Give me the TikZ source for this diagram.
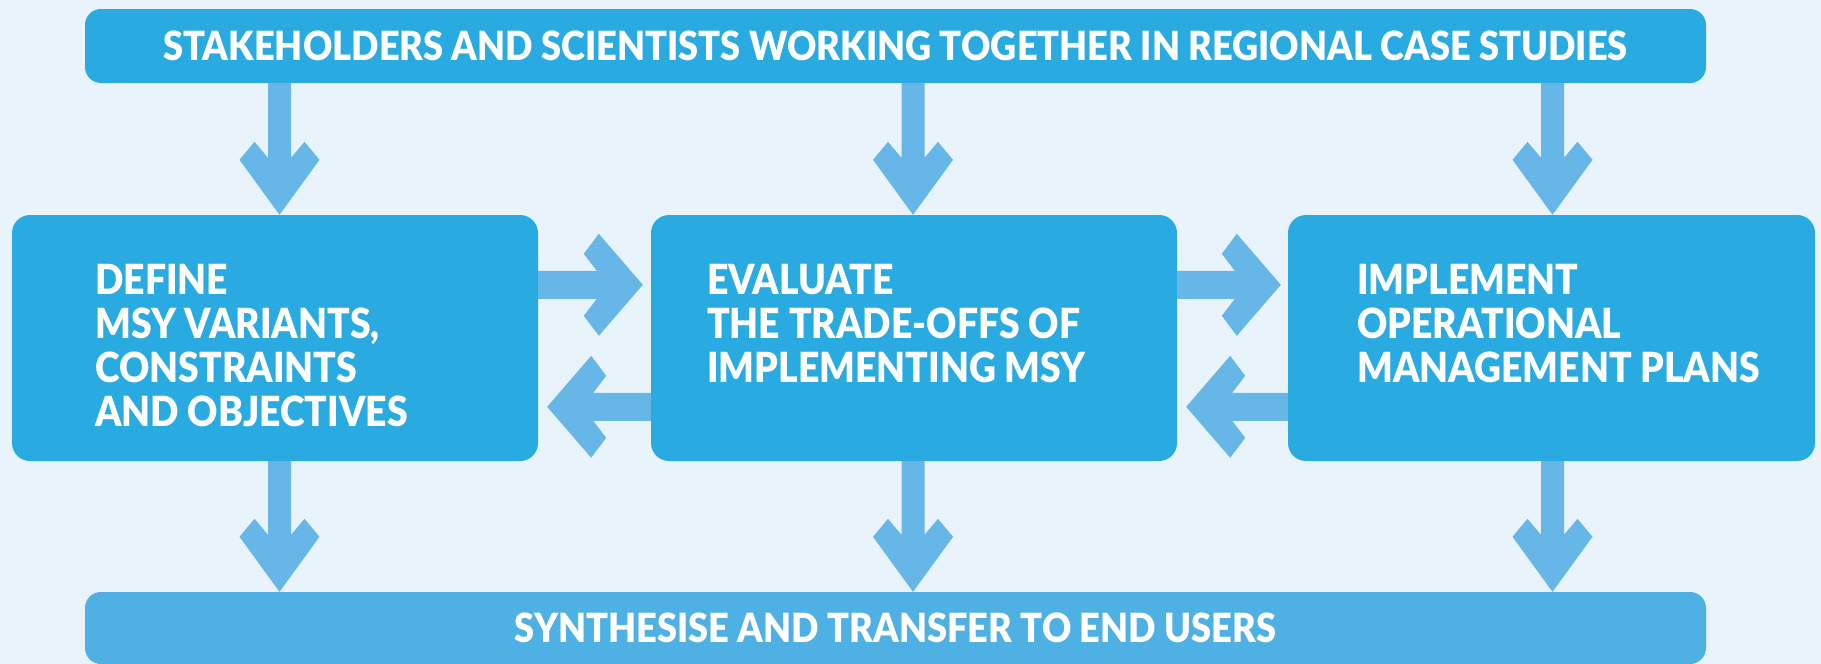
\documentclass[tikz,border=0pt]{standalone}
\usepackage{fontspec}
\newfontfamily\lblfont{Lato Black}[FakeStretch=0.9]
\usetikzlibrary{calc}
\definecolor{bgc}{HTML}{E8F3FC}
\definecolor{boxc}{HTML}{29ABE2}
\definecolor{botc}{HTML}{4FB0E4}
\definecolor{arrc}{HTML}{66B7E7}
\newcommand\varr[2]{%
  \path (#2) coordinate (tp); \path (#1 -| tp) coordinate (st);
  \fill[arrfill] (tp) -- ([shift={(40pt,55pt)}]tp) -- ([shift={(25pt,73pt)}]tp)
    -- ([shift={(11.5pt,57pt)}]tp) -- ([xshift=11.5pt]st) -- ([xshift=-11.5pt]st)
    -- ([shift={(-11.5pt,57pt)}]tp) -- ([shift={(-25pt,73pt)}]tp)
    -- ([shift={(-40pt,55pt)}]tp) -- cycle;}
\newcommand\harr[3]{%
  \path (#2) coordinate (tp); \path (#1 |- tp) coordinate (st);
  \fill[arrfill] (tp) -- ([shift={(#3*44pt,51pt)}]tp) -- ([shift={(#3*59pt,31pt)}]tp)
    -- ([shift={(#3*46pt,14pt)}]tp) -- ([yshift=14pt]st) -- ([yshift=-14pt]st)
    -- ([shift={(#3*46pt,-14pt)}]tp) -- ([shift={(#3*59pt,-31pt)}]tp)
    -- ([shift={(#3*44pt,-51pt)}]tp) -- cycle;}
\begin{document}
\begin{tikzpicture}[x=1pt,y=-1pt,
  box/.style={fill=boxc, rounded corners=18pt, inner sep=0pt, text=white,
    font=\lblfont\fontsize{40.2}{44}\selectfont},
  txt/.style={anchor=north west, inner sep=0pt, align=left, text=white,
    font=\lblfont\fontsize{41.5}{44}\selectfont},
  arrfill/.style={fill=arrc}]
\fill[bgc] (0,0) rectangle (1821,664);
\useasboundingbox (0,0) rectangle (1821,664);
% boxes
\node[box, rounded corners=16pt, minimum width=1621pt, minimum height=74pt] (top) at (895.5,46)
  {STAKEHOLDERS AND SCIENTISTS WORKING TOGETHER IN REGIONAL CASE STUDIES};
\node[box, minimum width=526pt, minimum height=246pt] (b1) at (275,338) {};
\node[box, minimum width=526pt, minimum height=246pt] (b2) at (914,338) {};
\node[box, minimum width=527pt, minimum height=246pt] (b3) at (1551.5,338) {};
\node[box, fill=botc, rounded corners=16pt, minimum width=1621pt, minimum height=72pt] (bot) at (895.5,628)
  {SYNTHESISE AND TRANSFER TO END USERS};
% texts
\node[txt] (t1) at (95,264.3) {DEFINE\\MSY VARIANTS,\\CONSTRAINTS\\AND OBJECTIVES};
\node[txt] (t2) at (707,264.3) {EVALUATE\\THE TRADE-OFFS OF\\IMPLEMENTING MSY};
\node[txt] (t3) at (1357,264.3) {IMPLEMENT\\OPERATIONAL\\MANAGEMENT PLANS};
% vertical arrows
\varr{top.south}{$(b1.north)+(4.5,0)$}
\varr{top.south}{$(b2.north)+(-1,0)$}
\varr{top.south}{$(b3.north)+(1,0)$}
\varr{b1.south}{$(bot.north -| b1.south)+(4.5,0)$}
\varr{b2.south}{$(bot.north -| b2.south)+(-1,0)$}
\varr{b3.south}{$(bot.north -| b3.south)+(1,0)$}
% horizontal arrows
\harr{b1.east}{$(b2.north west)+(-8,70)$}{-1}
\harr{b2.east}{$(b3.north west)+(-7,70)$}{-1}
\harr{b2.west}{$(b1.north east)+(9,192)$}{1}
\harr{b3.west}{$(b2.north east)+(9,192)$}{1}
\end{tikzpicture}
\end{document}
